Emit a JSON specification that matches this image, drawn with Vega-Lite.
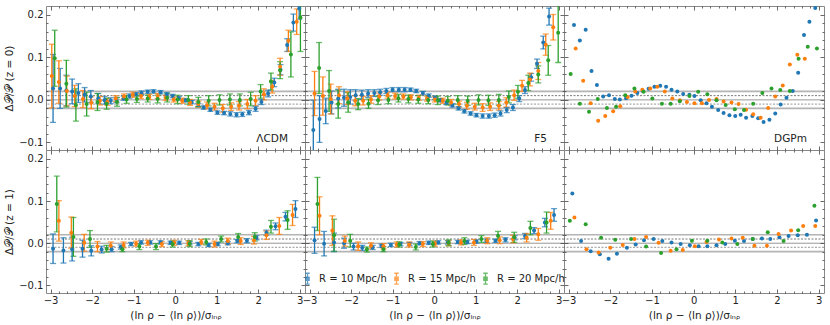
{
"$schema":"https://vega.github.io/schema/vega-lite/v6.json",
"padding":{"left":4,"top":5,"right":2,"bottom":2},
"config":{"font":"DejaVu Sans","view":{"stroke":"#888888","strokeWidth":1},
"axis":{"domain":false,"grid":false,"labelFont":"DejaVu Sans","labelFontSize":10,"labelColor":"#222","tickColor":"#444","tickWidth":0.8,"titleFont":"DejaVu Sans","titleFontSize":10.5,"titleFontWeight":"normal","titleColor":"#222","labelFlush":false,"labelOverlap":false,"labelBound":false}},
"datasets":{
"refs":[{"v":0.02,"k":"a"},{"v":-0.02,"k":"a"},{"v":0.01,"k":"b"},{"v":-0.01,"k":"c"},{"v":0,"k":"d"}],
"L0":[
{"s":"10","x":-2.94,"y":0.027,"e":0.08},{"s":"10","x":-2.77,"y":0.027,"e":0.047},{"s":"10","x":-2.62,"y":0.022,"e":0.036},{"s":"10","x":-2.48,"y":0.02,"e":0.029},{"s":"10","x":-2.33,"y":0.016,"e":0.022},{"s":"10","x":-2.18,"y":0.012,"e":0.017},{"s":"10","x":-2.03,"y":0.008,"e":0.014},{"s":"10","x":-1.85,"y":0.003,"e":0.012},{"s":"10","x":-1.7,"y":-0.001,"e":0.009},{"s":"10","x":-1.55,"y":-0.002,"e":0.007},{"s":"10","x":-1.41,"y":0.0,"e":0.006},{"s":"10","x":-1.24,"y":0.004,"e":0.005},{"s":"10","x":-1.1,"y":0.009,"e":0.005},{"s":"10","x":-0.94,"y":0.013,"e":0.004},{"s":"10","x":-0.81,"y":0.017,"e":0.004},{"s":"10","x":-0.66,"y":0.019,"e":0.004},{"s":"10","x":-0.52,"y":0.02,"e":0.004},{"s":"10","x":-0.35,"y":0.018,"e":0.004},{"s":"10","x":-0.2,"y":0.013,"e":0.004},{"s":"10","x":-0.06,"y":0.009,"e":0.004},{"s":"10","x":0.09,"y":0.004,"e":0.004},{"s":"10","x":0.25,"y":-0.001,"e":0.004},{"s":"10","x":0.4,"y":-0.005,"e":0.004},{"s":"10","x":0.56,"y":-0.012,"e":0.004},{"s":"10","x":0.69,"y":-0.018,"e":0.004},{"s":"10","x":0.85,"y":-0.023,"e":0.004},{"s":"10","x":1.02,"y":-0.03,"e":0.004},{"s":"10","x":1.18,"y":-0.031,"e":0.004},{"s":"10","x":1.33,"y":-0.033,"e":0.005},{"s":"10","x":1.48,"y":-0.035,"e":0.005},{"s":"10","x":1.62,"y":-0.034,"e":0.005},{"s":"10","x":1.78,"y":-0.03,"e":0.005},{"s":"10","x":1.94,"y":-0.021,"e":0.006},{"s":"10","x":2.08,"y":-0.005,"e":0.006},{"s":"10","x":2.24,"y":0.015,"e":0.008},{"s":"10","x":2.39,"y":0.041,"e":0.01},{"s":"10","x":2.54,"y":0.071,"e":0.012},{"s":"10","x":2.7,"y":0.129,"e":0.015},{"s":"10","x":2.85,"y":0.182,"e":0.02},{"s":"10","x":2.99,"y":0.215,"e":0.025},
{"s":"15","x":-2.97,"y":0.056,"e":0.075},{"s":"15","x":-2.8,"y":0.042,"e":0.05},{"s":"15","x":-2.61,"y":0.021,"e":0.035},{"s":"15","x":-2.42,"y":0.009,"e":0.025},{"s":"15","x":-2.22,"y":0.002,"e":0.02},{"s":"15","x":-2.02,"y":-0.007,"e":0.014},{"s":"15","x":-1.81,"y":-0.002,"e":0.01},{"s":"15","x":-1.63,"y":-0.005,"e":0.008},{"s":"15","x":-1.43,"y":0.003,"e":0.007},{"s":"15","x":-1.23,"y":0.008,"e":0.006},{"s":"15","x":-1.02,"y":0.012,"e":0.006},{"s":"15","x":-0.82,"y":0.009,"e":0.006},{"s":"15","x":-0.62,"y":0.007,"e":0.006},{"s":"15","x":-0.42,"y":0.009,"e":0.006},{"s":"15","x":-0.23,"y":0.005,"e":0.006},{"s":"15","x":-0.03,"y":0.001,"e":0.006},{"s":"15","x":0.17,"y":-0.002,"e":0.006},{"s":"15","x":0.36,"y":-0.006,"e":0.007},{"s":"15","x":0.56,"y":-0.01,"e":0.007},{"s":"15","x":0.77,"y":-0.013,"e":0.008},{"s":"15","x":0.95,"y":-0.016,"e":0.008},{"s":"15","x":1.15,"y":-0.02,"e":0.009},{"s":"15","x":1.35,"y":-0.016,"e":0.009},{"s":"15","x":1.54,"y":-0.014,"e":0.01},{"s":"15","x":1.74,"y":-0.01,"e":0.011},{"s":"15","x":1.94,"y":-0.002,"e":0.012},{"s":"15","x":2.14,"y":0.013,"e":0.013},{"s":"15","x":2.34,"y":0.031,"e":0.015},{"s":"15","x":2.53,"y":0.078,"e":0.02},{"s":"15","x":2.73,"y":0.139,"e":0.025},{"s":"15","x":2.93,"y":0.184,"e":0.03},
{"s":"20","x":-2.9,"y":0.098,"e":0.066},{"s":"20","x":-2.62,"y":0.038,"e":0.055},{"s":"20","x":-2.39,"y":-0.012,"e":0.038},{"s":"20","x":-2.13,"y":-0.01,"e":0.028},{"s":"20","x":-1.87,"y":-0.005,"e":0.02},{"s":"20","x":-1.65,"y":-0.009,"e":0.013},{"s":"20","x":-1.4,"y":-0.005,"e":0.01},{"s":"20","x":-1.17,"y":0.001,"e":0.009},{"s":"20","x":-0.92,"y":0.002,"e":0.008},{"s":"20","x":-0.66,"y":0.003,"e":0.008},{"s":"20","x":-0.42,"y":0.002,"e":0.009},{"s":"20","x":-0.19,"y":0.005,"e":0.01},{"s":"20","x":0.06,"y":0.001,"e":0.01},{"s":"20","x":0.32,"y":0.0,"e":0.01},{"s":"20","x":0.56,"y":-0.005,"e":0.011},{"s":"20","x":0.81,"y":-0.002,"e":0.012},{"s":"20","x":1.07,"y":0.0,"e":0.012},{"s":"20","x":1.32,"y":0.001,"e":0.013},{"s":"20","x":1.56,"y":0.0,"e":0.014},{"s":"20","x":1.82,"y":0.002,"e":0.016},{"s":"20","x":2.06,"y":0.02,"e":0.016},{"s":"20","x":2.31,"y":0.043,"e":0.02},{"s":"20","x":2.53,"y":0.07,"e":0.02},{"s":"20","x":2.79,"y":0.107,"e":0.053},{"s":"20","x":3.02,"y":0.194,"e":0.08}],
"F0":[
{"s":"10","x":-2.91,"y":-0.071,"e":0.07},{"s":"10","x":-2.76,"y":-0.045,"e":0.055},{"s":"10","x":-2.61,"y":-0.026,"e":0.03},{"s":"10","x":-2.47,"y":-0.006,"e":0.027},{"s":"10","x":-2.31,"y":0.003,"e":0.022},{"s":"10","x":-2.17,"y":0.005,"e":0.02},{"s":"10","x":-2.02,"y":0.007,"e":0.017},{"s":"10","x":-1.89,"y":0.011,"e":0.013},{"s":"10","x":-1.74,"y":0.012,"e":0.011},{"s":"10","x":-1.59,"y":0.015,"e":0.009},{"s":"10","x":-1.44,"y":0.016,"e":0.008},{"s":"10","x":-1.3,"y":0.018,"e":0.007},{"s":"10","x":-1.15,"y":0.021,"e":0.006},{"s":"10","x":-1.0,"y":0.024,"e":0.005},{"s":"10","x":-0.85,"y":0.024,"e":0.005},{"s":"10","x":-0.71,"y":0.024,"e":0.005},{"s":"10","x":-0.57,"y":0.024,"e":0.004},{"s":"10","x":-0.43,"y":0.021,"e":0.004},{"s":"10","x":-0.27,"y":0.016,"e":0.004},{"s":"10","x":-0.13,"y":0.01,"e":0.004},{"s":"10","x":0.02,"y":0.005,"e":0.004},{"s":"10","x":0.15,"y":-0.001,"e":0.004},{"s":"10","x":0.3,"y":-0.007,"e":0.004},{"s":"10","x":0.44,"y":-0.013,"e":0.004},{"s":"10","x":0.59,"y":-0.02,"e":0.004},{"s":"10","x":0.73,"y":-0.027,"e":0.004},{"s":"10","x":0.88,"y":-0.032,"e":0.004},{"s":"10","x":1.02,"y":-0.036,"e":0.004},{"s":"10","x":1.17,"y":-0.038,"e":0.005},{"s":"10","x":1.32,"y":-0.038,"e":0.005},{"s":"10","x":1.46,"y":-0.036,"e":0.005},{"s":"10","x":1.6,"y":-0.032,"e":0.006},{"s":"10","x":1.75,"y":-0.024,"e":0.006},{"s":"10","x":1.9,"y":-0.018,"e":0.007},{"s":"10","x":2.05,"y":0.003,"e":0.007},{"s":"10","x":2.19,"y":0.023,"e":0.008},{"s":"10","x":2.34,"y":0.053,"e":0.009},{"s":"10","x":2.48,"y":0.085,"e":0.011},{"s":"10","x":2.63,"y":0.135,"e":0.015},{"s":"10","x":2.77,"y":0.196,"e":0.02},
{"s":"15","x":-2.88,"y":0.015,"e":0.052},{"s":"15","x":-2.68,"y":0.009,"e":0.045},{"s":"15","x":-2.49,"y":0.002,"e":0.035},{"s":"15","x":-2.29,"y":0.011,"e":0.02},{"s":"15","x":-2.09,"y":0.004,"e":0.015},{"s":"15","x":-1.9,"y":-0.002,"e":0.012},{"s":"15","x":-1.71,"y":-0.002,"e":0.01},{"s":"15","x":-1.52,"y":0.001,"e":0.009},{"s":"15","x":-1.32,"y":0.008,"e":0.008},{"s":"15","x":-1.12,"y":0.011,"e":0.007},{"s":"15","x":-0.94,"y":0.009,"e":0.007},{"s":"15","x":-0.74,"y":0.008,"e":0.006},{"s":"15","x":-0.56,"y":0.006,"e":0.006},{"s":"15","x":-0.37,"y":0.005,"e":0.006},{"s":"15","x":-0.17,"y":0.003,"e":0.006},{"s":"15","x":0.02,"y":0.001,"e":0.006},{"s":"15","x":0.21,"y":-0.002,"e":0.006},{"s":"15","x":0.41,"y":-0.006,"e":0.007},{"s":"15","x":0.6,"y":-0.01,"e":0.007},{"s":"15","x":0.79,"y":-0.014,"e":0.008},{"s":"15","x":0.98,"y":-0.016,"e":0.008},{"s":"15","x":1.17,"y":-0.018,"e":0.009},{"s":"15","x":1.35,"y":-0.016,"e":0.009},{"s":"15","x":1.56,"y":-0.014,"e":0.01},{"s":"15","x":1.74,"y":-0.006,"e":0.011},{"s":"15","x":1.93,"y":0.011,"e":0.012},{"s":"15","x":2.12,"y":0.033,"e":0.013},{"s":"15","x":2.31,"y":0.048,"e":0.015},{"s":"15","x":2.51,"y":0.068,"e":0.02},{"s":"15","x":2.69,"y":0.13,"e":0.025},{"s":"15","x":2.87,"y":0.171,"e":0.03},
{"s":"20","x":-2.77,"y":0.075,"e":0.06},{"s":"20","x":-2.53,"y":0.021,"e":0.048},{"s":"20","x":-2.31,"y":-0.01,"e":0.033},{"s":"20","x":-2.07,"y":-0.006,"e":0.023},{"s":"20","x":-1.83,"y":-0.01,"e":0.013},{"s":"20","x":-1.58,"y":-0.009,"e":0.011},{"s":"20","x":-1.35,"y":-0.001,"e":0.01},{"s":"20","x":-1.1,"y":0.0,"e":0.009},{"s":"20","x":-0.86,"y":0.004,"e":0.009},{"s":"20","x":-0.62,"y":0.002,"e":0.009},{"s":"20","x":-0.38,"y":0.001,"e":0.009},{"s":"20","x":-0.14,"y":0.0,"e":0.009},{"s":"20","x":0.09,"y":-0.001,"e":0.01},{"s":"20","x":0.33,"y":-0.002,"e":0.01},{"s":"20","x":0.57,"y":0.0,"e":0.01},{"s":"20","x":0.81,"y":-0.002,"e":0.011},{"s":"20","x":1.07,"y":0.0,"e":0.012},{"s":"20","x":1.31,"y":-0.001,"e":0.012},{"s":"20","x":1.56,"y":0.0,"e":0.013},{"s":"20","x":1.8,"y":0.007,"e":0.014},{"s":"20","x":2.02,"y":0.019,"e":0.015},{"s":"20","x":2.27,"y":0.04,"e":0.018},{"s":"20","x":2.51,"y":0.06,"e":0.02},{"s":"20","x":2.75,"y":0.093,"e":0.035},{"s":"20","x":2.99,"y":0.158,"e":0.07}],
"D0":[
{"s":"10","x":-2.87,"y":0.176},{"s":"10","x":-2.73,"y":0.14},{"s":"10","x":-2.59,"y":0.165},{"s":"10","x":-2.45,"y":0.068},{"s":"10","x":-2.32,"y":0.035},{"s":"10","x":-2.17,"y":0.008},{"s":"10","x":-2.03,"y":0.011},{"s":"10","x":-1.89,"y":0.002},{"s":"10","x":-1.77,"y":0.001},{"s":"10","x":-1.62,"y":0.004},{"s":"10","x":-1.49,"y":0.01},{"s":"10","x":-1.35,"y":0.016},{"s":"10","x":-1.22,"y":0.021},{"s":"10","x":-1.08,"y":0.026},{"s":"10","x":-0.94,"y":0.031},{"s":"10","x":-0.8,"y":0.033},{"s":"10","x":-0.66,"y":0.031},{"s":"10","x":-0.53,"y":0.024},{"s":"10","x":-0.39,"y":0.02},{"s":"10","x":-0.25,"y":0.014},{"s":"10","x":-0.1,"y":0.012},{"s":"10","x":0.02,"y":0.009},{"s":"10","x":0.17,"y":-0.001},{"s":"10","x":0.31,"y":-0.008},{"s":"10","x":0.44,"y":-0.016},{"s":"10","x":0.59,"y":-0.024},{"s":"10","x":0.72,"y":-0.031},{"s":"10","x":0.86,"y":-0.036},{"s":"10","x":1.0,"y":-0.038},{"s":"10","x":1.13,"y":-0.035},{"s":"10","x":1.26,"y":-0.042},{"s":"10","x":1.41,"y":-0.038},{"s":"10","x":1.55,"y":-0.043},{"s":"10","x":1.68,"y":-0.052},{"s":"10","x":1.82,"y":-0.047},{"s":"10","x":1.96,"y":-0.032},{"s":"10","x":2.09,"y":-0.011},{"s":"10","x":2.23,"y":0.005},{"s":"10","x":2.38,"y":0.021},{"s":"10","x":2.51,"y":0.064},{"s":"10","x":2.65,"y":0.153},{"s":"10","x":2.78,"y":0.184},{"s":"10","x":2.92,"y":0.216},
{"s":"15","x":-2.83,"y":0.121},{"s":"15","x":-2.65,"y":0.045},{"s":"15","x":-2.47,"y":-0.008},{"s":"15","x":-2.29,"y":-0.049},{"s":"15","x":-2.12,"y":-0.038},{"s":"15","x":-1.93,"y":-0.027},{"s":"15","x":-1.76,"y":-0.015},{"s":"15","x":-1.58,"y":0.007},{"s":"15","x":-1.4,"y":0.02},{"s":"15","x":-1.23,"y":0.024},{"s":"15","x":-1.04,"y":0.027},{"s":"15","x":-0.87,"y":0.031},{"s":"15","x":-0.69,"y":0.02},{"s":"15","x":-0.51,"y":0.003},{"s":"15","x":-0.33,"y":-0.001},{"s":"15","x":-0.16,"y":-0.005},{"s":"15","x":0.02,"y":-0.008},{"s":"15","x":0.2,"y":-0.008},{"s":"15","x":0.37,"y":0.0},{"s":"15","x":0.55,"y":0.002},{"s":"15","x":0.72,"y":-0.004},{"s":"15","x":0.91,"y":-0.006},{"s":"15","x":1.08,"y":-0.01},{"s":"15","x":1.26,"y":-0.023},{"s":"15","x":1.43,"y":-0.034},{"s":"15","x":1.61,"y":-0.042},{"s":"15","x":1.79,"y":-0.019},{"s":"15","x":1.96,"y":0.008},{"s":"15","x":2.14,"y":0.034},{"s":"15","x":2.31,"y":0.083},{"s":"15","x":2.49,"y":0.106},{"s":"15","x":2.67,"y":0.097},
{"s":"20","x":-2.95,"y":0.061},{"s":"20","x":-2.73,"y":-0.009},{"s":"20","x":-2.51,"y":-0.028},{"s":"20","x":-2.3,"y":0.002},{"s":"20","x":-2.08,"y":-0.019},{"s":"20","x":-1.86,"y":-0.016},{"s":"20","x":-1.64,"y":0.011},{"s":"20","x":-1.42,"y":0.027},{"s":"20","x":-1.2,"y":0.019},{"s":"20","x":-0.99,"y":0.003},{"s":"20","x":-0.76,"y":-0.009},{"s":"20","x":-0.55,"y":-0.009},{"s":"20","x":-0.33,"y":-0.003},{"s":"20","x":-0.1,"y":0.009},{"s":"20","x":0.11,"y":0.019},{"s":"20","x":0.33,"y":0.013},{"s":"20","x":0.55,"y":-0.001},{"s":"20","x":0.77,"y":-0.012},{"s":"20","x":0.99,"y":-0.022},{"s":"20","x":1.21,"y":-0.024},{"s":"20","x":1.43,"y":-0.009},{"s":"20","x":1.65,"y":0.016},{"s":"20","x":1.87,"y":0.027},{"s":"20","x":2.08,"y":0.023},{"s":"20","x":2.31,"y":0.021},{"s":"20","x":2.52,"y":0.097},{"s":"20","x":2.74,"y":0.125},{"s":"20","x":2.96,"y":0.121}],
"L1":[
{"s":"10","x":-2.94,"y":-0.013,"e":0.035},{"s":"10","x":-2.69,"y":-0.017,"e":0.03},{"s":"10","x":-2.48,"y":-0.014,"e":0.028},{"s":"10","x":-2.23,"y":-0.013,"e":0.02},{"s":"10","x":-2.02,"y":-0.018,"e":0.012},{"s":"10","x":-1.77,"y":-0.015,"e":0.008},{"s":"10","x":-1.53,"y":-0.014,"e":0.006},{"s":"10","x":-1.31,"y":-0.009,"e":0.005},{"s":"10","x":-1.06,"y":-0.002,"e":0.004},{"s":"10","x":-0.82,"y":0.002,"e":0.004},{"s":"10","x":-0.6,"y":0.002,"e":0.004},{"s":"10","x":-0.35,"y":0.002,"e":0.004},{"s":"10","x":-0.11,"y":0.001,"e":0.004},{"s":"10","x":0.1,"y":0.001,"e":0.004},{"s":"10","x":0.35,"y":0.0,"e":0.004},{"s":"10","x":0.56,"y":-0.002,"e":0.004},{"s":"10","x":0.81,"y":-0.004,"e":0.004},{"s":"10","x":1.03,"y":-0.002,"e":0.004},{"s":"10","x":1.27,"y":0.0,"e":0.004},{"s":"10","x":1.5,"y":0.005,"e":0.004},{"s":"10","x":1.73,"y":0.006,"e":0.005},{"s":"10","x":1.96,"y":0.013,"e":0.005},{"s":"10","x":2.2,"y":0.025,"e":0.006},{"s":"10","x":2.42,"y":0.04,"e":0.008},{"s":"10","x":2.66,"y":0.063,"e":0.01},{"s":"10","x":2.9,"y":0.081,"e":0.02},
{"s":"15","x":-2.8,"y":0.053,"e":0.048},{"s":"15","x":-2.5,"y":0.025,"e":0.037},{"s":"15","x":-2.19,"y":0.001,"e":0.02},{"s":"15","x":-1.87,"y":-0.008,"e":0.012},{"s":"15","x":-1.55,"y":-0.006,"e":0.009},{"s":"15","x":-1.24,"y":-0.004,"e":0.007},{"s":"15","x":-0.94,"y":-0.001,"e":0.006},{"s":"15","x":-0.66,"y":0.001,"e":0.006},{"s":"15","x":-0.32,"y":-0.002,"e":0.006},{"s":"15","x":-0.02,"y":0.001,"e":0.006},{"s":"15","x":0.32,"y":0.0,"e":0.006},{"s":"15","x":0.63,"y":0.003,"e":0.006},{"s":"15","x":0.95,"y":-0.002,"e":0.007},{"s":"15","x":1.27,"y":0.005,"e":0.007},{"s":"15","x":1.58,"y":0.005,"e":0.008},{"s":"15","x":1.9,"y":0.007,"e":0.009},{"s":"15","x":2.2,"y":0.019,"e":0.01},{"s":"15","x":2.51,"y":0.041,"e":0.02},{"s":"15","x":2.83,"y":0.067,"e":0.025},
{"s":"20","x":-2.85,"y":0.093,"e":0.066},{"s":"20","x":-2.45,"y":0.015,"e":0.046},{"s":"20","x":-2.05,"y":0.01,"e":0.02},{"s":"20","x":-1.65,"y":-0.013,"e":0.008},{"s":"20","x":-1.27,"y":-0.014,"e":0.006},{"s":"20","x":-0.86,"y":-0.008,"e":0.007},{"s":"20","x":-0.46,"y":-0.008,"e":0.007},{"s":"20","x":-0.06,"y":-0.002,"e":0.007},{"s":"20","x":0.35,"y":-0.001,"e":0.007},{"s":"20","x":0.75,"y":0.003,"e":0.007},{"s":"20","x":1.11,"y":0.01,"e":0.007},{"s":"20","x":1.52,"y":0.015,"e":0.008},{"s":"20","x":1.92,"y":0.015,"e":0.01},{"s":"20","x":2.31,"y":0.039,"e":0.015},{"s":"20","x":2.71,"y":0.055,"e":0.022}],
"F1":[
{"s":"10","x":-2.88,"y":0.007,"e":0.031},{"s":"10","x":-2.65,"y":-0.001,"e":0.029},{"s":"10","x":-2.41,"y":0.002,"e":0.022},{"s":"10","x":-2.17,"y":0.0,"e":0.012},{"s":"10","x":-1.94,"y":-0.008,"e":0.008},{"s":"10","x":-1.73,"y":-0.011,"e":0.006},{"s":"10","x":-1.48,"y":-0.01,"e":0.005},{"s":"10","x":-1.27,"y":-0.006,"e":0.004},{"s":"10","x":-1.04,"y":-0.004,"e":0.004},{"s":"10","x":-0.81,"y":-0.002,"e":0.004},{"s":"10","x":-0.59,"y":-0.002,"e":0.004},{"s":"10","x":-0.35,"y":0.0,"e":0.004},{"s":"10","x":-0.13,"y":0.001,"e":0.004},{"s":"10","x":0.1,"y":0.002,"e":0.004},{"s":"10","x":0.33,"y":0.002,"e":0.004},{"s":"10","x":0.57,"y":0.003,"e":0.004},{"s":"10","x":0.8,"y":0.003,"e":0.004},{"s":"10","x":1.02,"y":0.004,"e":0.004},{"s":"10","x":1.26,"y":0.006,"e":0.004},{"s":"10","x":1.48,"y":0.006,"e":0.004},{"s":"10","x":1.72,"y":0.008,"e":0.005},{"s":"10","x":1.94,"y":0.013,"e":0.005},{"s":"10","x":2.19,"y":0.017,"e":0.006},{"s":"10","x":2.41,"y":0.03,"e":0.007},{"s":"10","x":2.67,"y":0.049,"e":0.01},{"s":"10","x":2.89,"y":0.067,"e":0.015},
{"s":"15","x":-2.76,"y":0.065,"e":0.045},{"s":"15","x":-2.45,"y":0.03,"e":0.035},{"s":"15","x":-2.15,"y":0.005,"e":0.012},{"s":"15","x":-1.83,"y":-0.007,"e":0.01},{"s":"15","x":-1.52,"y":-0.006,"e":0.007},{"s":"15","x":-1.22,"y":-0.007,"e":0.006},{"s":"15","x":-0.9,"y":-0.003,"e":0.006},{"s":"15","x":-0.6,"y":-0.003,"e":0.006},{"s":"15","x":-0.27,"y":-0.002,"e":0.006},{"s":"15","x":0.02,"y":-0.001,"e":0.006},{"s":"15","x":0.35,"y":0.0,"e":0.006},{"s":"15","x":0.65,"y":0.002,"e":0.006},{"s":"15","x":0.96,"y":0.002,"e":0.007},{"s":"15","x":1.28,"y":0.006,"e":0.007},{"s":"15","x":1.58,"y":0.007,"e":0.008},{"s":"15","x":1.9,"y":0.01,"e":0.009},{"s":"15","x":2.23,"y":0.013,"e":0.01},{"s":"15","x":2.51,"y":0.021,"e":0.014},{"s":"15","x":2.81,"y":0.053,"e":0.02},
{"s":"20","x":-2.81,"y":0.093,"e":0.063},{"s":"20","x":-2.41,"y":0.019,"e":0.038},{"s":"20","x":-2.02,"y":0.006,"e":0.015},{"s":"20","x":-1.62,"y":-0.015,"e":0.006},{"s":"20","x":-1.22,"y":-0.014,"e":0.006},{"s":"20","x":-0.84,"y":-0.003,"e":0.006},{"s":"20","x":-0.44,"y":-0.009,"e":0.007},{"s":"20","x":-0.03,"y":-0.002,"e":0.007},{"s":"20","x":0.35,"y":0.001,"e":0.007},{"s":"20","x":0.73,"y":0.005,"e":0.008},{"s":"20","x":1.14,"y":0.01,"e":0.008},{"s":"20","x":1.54,"y":0.018,"e":0.01},{"s":"20","x":1.93,"y":0.014,"e":0.012},{"s":"20","x":2.32,"y":0.036,"e":0.016},{"s":"20","x":2.71,"y":0.049,"e":0.025}],
"D1":[
{"s":"10","x":-2.91,"y":0.118},{"s":"10","x":-2.7,"y":0.005},{"s":"10","x":-2.47,"y":-0.019},{"s":"10","x":-2.25,"y":-0.026},{"s":"10","x":-2.04,"y":-0.037},{"s":"10","x":-1.84,"y":-0.025},{"s":"10","x":-1.6,"y":-0.011},{"s":"10","x":-1.39,"y":-0.003},{"s":"10","x":-1.19,"y":0.007},{"s":"10","x":-0.96,"y":0.01},{"s":"10","x":-0.75,"y":0.005},{"s":"10","x":-0.53,"y":0.002},{"s":"10","x":-0.31,"y":-0.002},{"s":"10","x":-0.09,"y":-0.005},{"s":"10","x":0.12,"y":-0.007},{"s":"10","x":0.33,"y":-0.007},{"s":"10","x":0.55,"y":-0.005},{"s":"10","x":0.76,"y":-0.002},{"s":"10","x":0.99,"y":0.006},{"s":"10","x":1.21,"y":0.005},{"s":"10","x":1.42,"y":0.01},{"s":"10","x":1.64,"y":0.011},{"s":"10","x":1.84,"y":0.01},{"s":"10","x":2.06,"y":0.014},{"s":"10","x":2.28,"y":0.017},{"s":"10","x":2.5,"y":0.019},{"s":"10","x":2.72,"y":0.02},{"s":"10","x":2.94,"y":0.054},
{"s":"15","x":-2.86,"y":0.061},{"s":"15","x":-2.57,"y":-0.014},{"s":"15","x":-2.28,"y":-0.022},{"s":"15","x":-2.0,"y":-0.011},{"s":"15","x":-1.7,"y":-0.004},{"s":"15","x":-1.42,"y":0.01},{"s":"15","x":-1.14,"y":0.015},{"s":"15","x":-0.84,"y":0.001},{"s":"15","x":-0.55,"y":-0.018},{"s":"15","x":-0.26,"y":-0.016},{"s":"15","x":0.03,"y":-0.007},{"s":"15","x":0.31,"y":0.003},{"s":"15","x":0.61,"y":0.009},{"s":"15","x":0.91,"y":0.011},{"s":"15","x":1.18,"y":0.013},{"s":"15","x":1.46,"y":-0.006},{"s":"15","x":1.76,"y":-0.006},{"s":"15","x":2.04,"y":0.022},{"s":"15","x":2.34,"y":0.03},{"s":"15","x":2.63,"y":0.041},{"s":"15","x":2.92,"y":0.041},
{"s":"20","x":-2.97,"y":0.053},{"s":"20","x":-2.59,"y":0.045},{"s":"20","x":-2.22,"y":0.013},{"s":"20","x":-1.88,"y":0.008},{"s":"20","x":-1.5,"y":0.01},{"s":"20","x":-1.14,"y":-0.008},{"s":"20","x":-0.78,"y":-0.023},{"s":"20","x":-0.41,"y":-0.014},{"s":"20","x":-0.04,"y":0.006},{"s":"20","x":0.33,"y":0.006},{"s":"20","x":0.69,"y":0.002},{"s":"20","x":1.05,"y":-0.002},{"s":"20","x":1.42,"y":0.01},{"s":"20","x":1.78,"y":0.026},{"s":"20","x":2.16,"y":0.005},{"s":"20","x":2.51,"y":0.031},{"s":"20","x":2.9,"y":0.089}]
},
"spacing":0,
"bounds":"flush",
"columns":3,
"concat":[
{"width":259,"height":144,"resolve":{"axis":{"x":"independent","y":"independent"}},"layer":[
{"data":{"name":"refs"},"mark":{"type":"rule"},"encoding":{"y":{"field":"v","type":"quantitative","scale":{"domain":[-0.118,0.221],"nice":false,"zero":false},"axis":{"orient":"left","values":[-0.1,-0.08,-0.06,-0.04,-0.02,0,0.02,0.04,0.06,0.08,0.1,0.12,0.14,0.16,0.18,0.2],"labelExpr":"abs(datum.value*10-round(datum.value*10))<0.001 ? format(datum.value,'.1f') : ''","tickSize":{"condition":{"test":"abs(datum.value*10-round(datum.value*10))<0.001","value":-4},"value":-2},"labelPadding":7,"title":"Δ𝒫/𝒫 (z = 0)","titlePadding":4}},"strokeDash":{"field":"k","type":"nominal","scale":{"domain":["a","b","c","d"],"range":[[1,0],[2,1.5],[2,1.5],[1,0]]},"legend":null},"strokeWidth":{"field":"k","type":"nominal","scale":{"type":"ordinal","domain":["a","b","c","d"],"range":[1.6,0.8,1.3,1]},"legend":null},"opacity":{"field":"k","type":"nominal","scale":{"type":"ordinal","domain":["a","b","c","d"],"range":[0.4,0.9,0.45,0.55]},"legend":null},"color":{"value":"#444"}}},
{"data":{"name":"L0"},"mark":{"type":"errorbar","ticks":{"size":6},"thickness":1.3,"clip":true},"encoding":{"x":{"field":"x","type":"quantitative","scale":{"domain":[-3.11,3.13],"nice":false,"zero":false},"axis":null},"y":{"field":"y","type":"quantitative","scale":{"domain":[-0.118,0.221],"nice":false,"zero":false},"axis":null},"yError":{"field":"e"},"color":{"field":"s","type":"nominal","scale":{"domain":["10","15","20"],"range":["#1f77b4","#ff7f0e","#2ca02c"]}}}},
{"data":{"name":"L0"},"mark":{"type":"point","filled":true,"size":16,"opacity":1,"clip":true},"encoding":{"x":{"field":"x","type":"quantitative","scale":{"domain":[-3.11,3.13],"nice":false,"zero":false},"axis":{"orient":"bottom","values":[-3,-2.8,-2.6,-2.4,-2.2,-2,-1.8,-1.6,-1.4,-1.2,-1,-0.8,-0.6,-0.4,-0.2,0,0.2,0.4,0.6,0.8,1,1.2,1.4,1.6,1.8,2,2.2,2.4,2.6,2.8,3],"labels":false,"tickSize":{"condition":{"test":"abs(datum.value-round(datum.value))<0.001","value":-4},"value":-2},"title":null}},"y":{"field":"y","type":"quantitative","scale":{"domain":[-0.118,0.221],"nice":false,"zero":false},"axis":{"orient":"right","values":[-0.1,-0.08,-0.06,-0.04,-0.02,0,0.02,0.04,0.06,0.08,0.1,0.12,0.14,0.16,0.18,0.2],"labels":false,"tickSize":{"condition":{"test":"abs(datum.value*10-round(datum.value*10))<0.001","value":-4},"value":-2},"title":null}},"color":{"field":"s","type":"nominal","scale":{"domain":["10","15","20"],"range":["#1f77b4","#ff7f0e","#2ca02c"]}}}},
{"data":{"values":[{}]},"mark":{"type":"text","align":"right","baseline":"alphabetic","fontSize":10.5,"color":"#222"},"encoding":{"x":{"datum":2.72,"type":"quantitative","axis":{"orient":"top","values":[-3,-2.8,-2.6,-2.4,-2.2,-2,-1.8,-1.6,-1.4,-1.2,-1,-0.8,-0.6,-0.4,-0.2,0,0.2,0.4,0.6,0.8,1,1.2,1.4,1.6,1.8,2,2.2,2.4,2.6,2.8,3],"labels":false,"tickSize":{"condition":{"test":"abs(datum.value-round(datum.value))<0.001","value":-4},"value":-2},"title":null}},"y":{"datum":-0.1,"type":"quantitative","axis":null},"text":{"value":"ΛCDM"}}}
]},
{"width":259,"height":144,"resolve":{"axis":{"x":"independent","y":"independent"}},"layer":[
{"data":{"name":"refs"},"mark":{"type":"rule"},"encoding":{"y":{"field":"v","type":"quantitative","scale":{"domain":[-0.118,0.221],"nice":false,"zero":false},"axis":{"orient":"left","values":[-0.1,-0.08,-0.06,-0.04,-0.02,0,0.02,0.04,0.06,0.08,0.1,0.12,0.14,0.16,0.18,0.2],"labels":false,"tickSize":{"condition":{"test":"abs(datum.value*10-round(datum.value*10))<0.001","value":-4},"value":-2},"title":null}},"strokeDash":{"field":"k","type":"nominal","scale":{"domain":["a","b","c","d"],"range":[[1,0],[2,1.5],[2,1.5],[1,0]]},"legend":null},"strokeWidth":{"field":"k","type":"nominal","scale":{"type":"ordinal","domain":["a","b","c","d"],"range":[1.6,0.8,1.3,1]},"legend":null},"opacity":{"field":"k","type":"nominal","scale":{"type":"ordinal","domain":["a","b","c","d"],"range":[0.4,0.9,0.45,0.55]},"legend":null},"color":{"value":"#444"}}},
{"data":{"name":"F0"},"mark":{"type":"errorbar","ticks":{"size":6},"thickness":1.3,"clip":true},"encoding":{"x":{"field":"x","type":"quantitative","scale":{"domain":[-3.11,3.13],"nice":false,"zero":false},"axis":null},"y":{"field":"y","type":"quantitative","scale":{"domain":[-0.118,0.221],"nice":false,"zero":false},"axis":null},"yError":{"field":"e"},"color":{"field":"s","type":"nominal","scale":{"domain":["10","15","20"],"range":["#1f77b4","#ff7f0e","#2ca02c"]}}}},
{"data":{"name":"F0"},"mark":{"type":"point","filled":true,"size":16,"opacity":1,"clip":true},"encoding":{"x":{"field":"x","type":"quantitative","scale":{"domain":[-3.11,3.13],"nice":false,"zero":false},"axis":{"orient":"bottom","values":[-3,-2.8,-2.6,-2.4,-2.2,-2,-1.8,-1.6,-1.4,-1.2,-1,-0.8,-0.6,-0.4,-0.2,0,0.2,0.4,0.6,0.8,1,1.2,1.4,1.6,1.8,2,2.2,2.4,2.6,2.8,3],"labels":false,"tickSize":{"condition":{"test":"abs(datum.value-round(datum.value))<0.001","value":-4},"value":-2},"title":null}},"y":{"field":"y","type":"quantitative","scale":{"domain":[-0.118,0.221],"nice":false,"zero":false},"axis":{"orient":"right","values":[-0.1,-0.08,-0.06,-0.04,-0.02,0,0.02,0.04,0.06,0.08,0.1,0.12,0.14,0.16,0.18,0.2],"labels":false,"tickSize":{"condition":{"test":"abs(datum.value*10-round(datum.value*10))<0.001","value":-4},"value":-2},"title":null}},"color":{"field":"s","type":"nominal","scale":{"domain":["10","15","20"],"range":["#1f77b4","#ff7f0e","#2ca02c"]}}}},
{"data":{"values":[{}]},"mark":{"type":"text","align":"right","baseline":"alphabetic","fontSize":10.5,"color":"#222"},"encoding":{"x":{"datum":2.72,"type":"quantitative","axis":{"orient":"top","values":[-3,-2.8,-2.6,-2.4,-2.2,-2,-1.8,-1.6,-1.4,-1.2,-1,-0.8,-0.6,-0.4,-0.2,0,0.2,0.4,0.6,0.8,1,1.2,1.4,1.6,1.8,2,2.2,2.4,2.6,2.8,3],"labels":false,"tickSize":{"condition":{"test":"abs(datum.value-round(datum.value))<0.001","value":-4},"value":-2},"title":null}},"y":{"datum":-0.1,"type":"quantitative","axis":null},"text":{"value":"F5"}}}
]},
{"width":260,"height":144,"resolve":{"axis":{"x":"independent","y":"independent"}},"layer":[
{"data":{"name":"refs"},"mark":{"type":"rule"},"encoding":{"y":{"field":"v","type":"quantitative","scale":{"domain":[-0.118,0.221],"nice":false,"zero":false},"axis":{"orient":"left","values":[-0.1,-0.08,-0.06,-0.04,-0.02,0,0.02,0.04,0.06,0.08,0.1,0.12,0.14,0.16,0.18,0.2],"labels":false,"tickSize":{"condition":{"test":"abs(datum.value*10-round(datum.value*10))<0.001","value":-4},"value":-2},"title":null}},"strokeDash":{"field":"k","type":"nominal","scale":{"domain":["a","b","c","d"],"range":[[1,0],[2,1.5],[2,1.5],[1,0]]},"legend":null},"strokeWidth":{"field":"k","type":"nominal","scale":{"type":"ordinal","domain":["a","b","c","d"],"range":[1.6,0.8,1.3,1]},"legend":null},"opacity":{"field":"k","type":"nominal","scale":{"type":"ordinal","domain":["a","b","c","d"],"range":[0.4,0.9,0.45,0.55]},"legend":null},"color":{"value":"#444"}}},
{"data":{"name":"D0"},"mark":{"type":"point","filled":true,"size":16,"opacity":1,"clip":true},"encoding":{"x":{"field":"x","type":"quantitative","scale":{"domain":[-3.11,3.13],"nice":false,"zero":false},"axis":{"orient":"bottom","values":[-3,-2.8,-2.6,-2.4,-2.2,-2,-1.8,-1.6,-1.4,-1.2,-1,-0.8,-0.6,-0.4,-0.2,0,0.2,0.4,0.6,0.8,1,1.2,1.4,1.6,1.8,2,2.2,2.4,2.6,2.8,3],"labels":false,"tickSize":{"condition":{"test":"abs(datum.value-round(datum.value))<0.001","value":-4},"value":-2},"title":null}},"y":{"field":"y","type":"quantitative","scale":{"domain":[-0.118,0.221],"nice":false,"zero":false},"axis":{"orient":"right","values":[-0.1,-0.08,-0.06,-0.04,-0.02,0,0.02,0.04,0.06,0.08,0.1,0.12,0.14,0.16,0.18,0.2],"labels":false,"tickSize":{"condition":{"test":"abs(datum.value*10-round(datum.value*10))<0.001","value":-4},"value":-2},"title":null}},"color":{"field":"s","type":"nominal","scale":{"domain":["10","15","20"],"range":["#1f77b4","#ff7f0e","#2ca02c"]}}}},
{"data":{"values":[{}]},"mark":{"type":"text","align":"right","baseline":"alphabetic","fontSize":10.5,"color":"#222"},"encoding":{"x":{"datum":2.72,"type":"quantitative","axis":{"orient":"top","values":[-3,-2.8,-2.6,-2.4,-2.2,-2,-1.8,-1.6,-1.4,-1.2,-1,-0.8,-0.6,-0.4,-0.2,0,0.2,0.4,0.6,0.8,1,1.2,1.4,1.6,1.8,2,2.2,2.4,2.6,2.8,3],"labels":false,"tickSize":{"condition":{"test":"abs(datum.value-round(datum.value))<0.001","value":-4},"value":-2},"title":null}},"y":{"datum":-0.1,"type":"quantitative","axis":null},"text":{"value":"DGPm"}}}
]},
{"width":259,"height":143,"resolve":{"axis":{"x":"independent","y":"independent"}},"layer":[
{"data":{"name":"refs"},"mark":{"type":"rule"},"encoding":{"y":{"field":"v","type":"quantitative","scale":{"domain":[-0.118,0.221],"nice":false,"zero":false},"axis":{"orient":"left","values":[-0.1,-0.08,-0.06,-0.04,-0.02,0,0.02,0.04,0.06,0.08,0.1,0.12,0.14,0.16,0.18,0.2],"labelExpr":"abs(datum.value*10-round(datum.value*10))<0.001 ? format(datum.value,'.1f') : ''","tickSize":{"condition":{"test":"abs(datum.value*10-round(datum.value*10))<0.001","value":-4},"value":-2},"labelPadding":7,"title":"Δ𝒫/𝒫 (z = 1)","titlePadding":4}},"strokeDash":{"field":"k","type":"nominal","scale":{"domain":["a","b","c","d"],"range":[[1,0],[2,1.5],[2,1.5],[1,0]]},"legend":null},"strokeWidth":{"field":"k","type":"nominal","scale":{"type":"ordinal","domain":["a","b","c","d"],"range":[1.6,0.8,1.3,1]},"legend":null},"opacity":{"field":"k","type":"nominal","scale":{"type":"ordinal","domain":["a","b","c","d"],"range":[0.4,0.9,0.45,0.55]},"legend":null},"color":{"value":"#444"}}},
{"data":{"name":"L1"},"mark":{"type":"errorbar","ticks":{"size":6},"thickness":1.3,"clip":true},"encoding":{"x":{"field":"x","type":"quantitative","scale":{"domain":[-3.11,3.13],"nice":false,"zero":false},"axis":null},"y":{"field":"y","type":"quantitative","scale":{"domain":[-0.118,0.221],"nice":false,"zero":false},"axis":null},"yError":{"field":"e"},"color":{"field":"s","type":"nominal","scale":{"domain":["10","15","20"],"range":["#1f77b4","#ff7f0e","#2ca02c"]}}}},
{"data":{"name":"L1"},"mark":{"type":"point","filled":true,"size":16,"opacity":1,"clip":true},"encoding":{"x":{"field":"x","type":"quantitative","scale":{"domain":[-3.11,3.13],"nice":false,"zero":false},"axis":{"orient":"bottom","values":[-3,-2.8,-2.6,-2.4,-2.2,-2,-1.8,-1.6,-1.4,-1.2,-1,-0.8,-0.6,-0.4,-0.2,0,0.2,0.4,0.6,0.8,1,1.2,1.4,1.6,1.8,2,2.2,2.4,2.6,2.8,3],"labelExpr":"abs(datum.value-round(datum.value))<0.001 ? format(datum.value,'.0f') : ''","tickSize":{"condition":{"test":"abs(datum.value-round(datum.value))<0.001","value":-4},"value":-2},"labelPadding":6,"title":"(ln ρ − ⟨ln ρ⟩)/σₗₙᵨ","titlePadding":3}},"y":{"field":"y","type":"quantitative","scale":{"domain":[-0.118,0.221],"nice":false,"zero":false},"axis":{"orient":"right","values":[-0.1,-0.08,-0.06,-0.04,-0.02,0,0.02,0.04,0.06,0.08,0.1,0.12,0.14,0.16,0.18,0.2],"labels":false,"tickSize":{"condition":{"test":"abs(datum.value*10-round(datum.value*10))<0.001","value":-4},"value":-2},"title":null}},"color":{"field":"s","type":"nominal","scale":{"domain":["10","15","20"],"range":["#1f77b4","#ff7f0e","#2ca02c"]}}}},
{"data":{"values":[{}]},"mark":{"type":"text","text":""},"encoding":{"x":{"datum":0,"type":"quantitative","axis":{"orient":"top","values":[-3,-2.8,-2.6,-2.4,-2.2,-2,-1.8,-1.6,-1.4,-1.2,-1,-0.8,-0.6,-0.4,-0.2,0,0.2,0.4,0.6,0.8,1,1.2,1.4,1.6,1.8,2,2.2,2.4,2.6,2.8,3],"labels":false,"tickSize":{"condition":{"test":"abs(datum.value-round(datum.value))<0.001","value":-4},"value":-2},"title":null}},"y":{"datum":0,"type":"quantitative","axis":null}}}
]},
{"width":259,"height":143,"resolve":{"axis":{"x":"independent","y":"independent"}},"layer":[
{"data":{"name":"refs"},"mark":{"type":"rule"},"encoding":{"y":{"field":"v","type":"quantitative","scale":{"domain":[-0.118,0.221],"nice":false,"zero":false},"axis":{"orient":"left","values":[-0.1,-0.08,-0.06,-0.04,-0.02,0,0.02,0.04,0.06,0.08,0.1,0.12,0.14,0.16,0.18,0.2],"labels":false,"tickSize":{"condition":{"test":"abs(datum.value*10-round(datum.value*10))<0.001","value":-4},"value":-2},"title":null}},"strokeDash":{"field":"k","type":"nominal","scale":{"domain":["a","b","c","d"],"range":[[1,0],[2,1.5],[2,1.5],[1,0]]},"legend":null},"strokeWidth":{"field":"k","type":"nominal","scale":{"type":"ordinal","domain":["a","b","c","d"],"range":[1.6,0.8,1.3,1]},"legend":null},"opacity":{"field":"k","type":"nominal","scale":{"type":"ordinal","domain":["a","b","c","d"],"range":[0.4,0.9,0.45,0.55]},"legend":null},"color":{"value":"#444"}}},
{"data":{"name":"F1"},"mark":{"type":"errorbar","ticks":{"size":6},"thickness":1.3,"clip":true},"encoding":{"x":{"field":"x","type":"quantitative","scale":{"domain":[-3.11,3.13],"nice":false,"zero":false},"axis":null},"y":{"field":"y","type":"quantitative","scale":{"domain":[-0.118,0.221],"nice":false,"zero":false},"axis":null},"yError":{"field":"e"},"color":{"field":"s","type":"nominal","scale":{"domain":["10","15","20"],"range":["#1f77b4","#ff7f0e","#2ca02c"]},"legend":{"orient":"none","legendX":255,"legendY":266,"direction":"horizontal","title":null,"padding":0,"labelExpr":"'R = ' + datum.label + ' Mpc/h'","labelFontSize":10,"labelFont":"DejaVu Sans","labelColor":"#222","symbolType":"M-0.4,-1H0.4M0,-1V1M-0.4,1H0.4M-0.3,-0.3H0.3V0.3H-0.3Z","symbolSize":120,"symbolStrokeWidth":1.3,"columnPadding":3,"labelOffset":5}}}},
{"data":{"name":"F1"},"mark":{"type":"point","filled":true,"size":16,"opacity":1,"clip":true},"encoding":{"x":{"field":"x","type":"quantitative","scale":{"domain":[-3.11,3.13],"nice":false,"zero":false},"axis":{"orient":"bottom","values":[-3,-2.8,-2.6,-2.4,-2.2,-2,-1.8,-1.6,-1.4,-1.2,-1,-0.8,-0.6,-0.4,-0.2,0,0.2,0.4,0.6,0.8,1,1.2,1.4,1.6,1.8,2,2.2,2.4,2.6,2.8,3],"labelExpr":"abs(datum.value-round(datum.value))<0.001 ? format(datum.value,'.0f') : ''","tickSize":{"condition":{"test":"abs(datum.value-round(datum.value))<0.001","value":-4},"value":-2},"labelPadding":6,"title":"(ln ρ − ⟨ln ρ⟩)/σₗₙᵨ","titlePadding":3}},"y":{"field":"y","type":"quantitative","scale":{"domain":[-0.118,0.221],"nice":false,"zero":false},"axis":{"orient":"right","values":[-0.1,-0.08,-0.06,-0.04,-0.02,0,0.02,0.04,0.06,0.08,0.1,0.12,0.14,0.16,0.18,0.2],"labels":false,"tickSize":{"condition":{"test":"abs(datum.value*10-round(datum.value*10))<0.001","value":-4},"value":-2},"title":null}},"color":{"field":"s","type":"nominal","scale":{"domain":["10","15","20"],"range":["#1f77b4","#ff7f0e","#2ca02c"]},"legend":{"orient":"none","legendX":255,"legendY":266,"direction":"horizontal","title":null,"padding":0,"labelExpr":"'R = ' + datum.label + ' Mpc/h'","labelFontSize":10,"labelFont":"DejaVu Sans","labelColor":"#222","symbolType":"M-0.4,-1H0.4M0,-1V1M-0.4,1H0.4M-0.3,-0.3H0.3V0.3H-0.3Z","symbolSize":120,"symbolStrokeWidth":1.3,"columnPadding":3,"labelOffset":5}}}},
{"data":{"values":[{}]},"mark":{"type":"text","text":""},"encoding":{"x":{"datum":0,"type":"quantitative","axis":{"orient":"top","values":[-3,-2.8,-2.6,-2.4,-2.2,-2,-1.8,-1.6,-1.4,-1.2,-1,-0.8,-0.6,-0.4,-0.2,0,0.2,0.4,0.6,0.8,1,1.2,1.4,1.6,1.8,2,2.2,2.4,2.6,2.8,3],"labels":false,"tickSize":{"condition":{"test":"abs(datum.value-round(datum.value))<0.001","value":-4},"value":-2},"title":null}},"y":{"datum":0,"type":"quantitative","axis":null}}}
]},
{"width":260,"height":143,"resolve":{"axis":{"x":"independent","y":"independent"}},"layer":[
{"data":{"name":"refs"},"mark":{"type":"rule"},"encoding":{"y":{"field":"v","type":"quantitative","scale":{"domain":[-0.118,0.221],"nice":false,"zero":false},"axis":{"orient":"left","values":[-0.1,-0.08,-0.06,-0.04,-0.02,0,0.02,0.04,0.06,0.08,0.1,0.12,0.14,0.16,0.18,0.2],"labels":false,"tickSize":{"condition":{"test":"abs(datum.value*10-round(datum.value*10))<0.001","value":-4},"value":-2},"title":null}},"strokeDash":{"field":"k","type":"nominal","scale":{"domain":["a","b","c","d"],"range":[[1,0],[2,1.5],[2,1.5],[1,0]]},"legend":null},"strokeWidth":{"field":"k","type":"nominal","scale":{"type":"ordinal","domain":["a","b","c","d"],"range":[1.6,0.8,1.3,1]},"legend":null},"opacity":{"field":"k","type":"nominal","scale":{"type":"ordinal","domain":["a","b","c","d"],"range":[0.4,0.9,0.45,0.55]},"legend":null},"color":{"value":"#444"}}},
{"data":{"name":"D1"},"mark":{"type":"point","filled":true,"size":16,"opacity":1,"clip":true},"encoding":{"x":{"field":"x","type":"quantitative","scale":{"domain":[-3.11,3.13],"nice":false,"zero":false},"axis":{"orient":"bottom","values":[-3,-2.8,-2.6,-2.4,-2.2,-2,-1.8,-1.6,-1.4,-1.2,-1,-0.8,-0.6,-0.4,-0.2,0,0.2,0.4,0.6,0.8,1,1.2,1.4,1.6,1.8,2,2.2,2.4,2.6,2.8,3],"labelExpr":"abs(datum.value-round(datum.value))<0.001 ? format(datum.value,'.0f') : ''","tickSize":{"condition":{"test":"abs(datum.value-round(datum.value))<0.001","value":-4},"value":-2},"labelPadding":6,"title":"(ln ρ − ⟨ln ρ⟩)/σₗₙᵨ","titlePadding":3}},"y":{"field":"y","type":"quantitative","scale":{"domain":[-0.118,0.221],"nice":false,"zero":false},"axis":{"orient":"right","values":[-0.1,-0.08,-0.06,-0.04,-0.02,0,0.02,0.04,0.06,0.08,0.1,0.12,0.14,0.16,0.18,0.2],"labels":false,"tickSize":{"condition":{"test":"abs(datum.value*10-round(datum.value*10))<0.001","value":-4},"value":-2},"title":null}},"color":{"field":"s","type":"nominal","scale":{"domain":["10","15","20"],"range":["#1f77b4","#ff7f0e","#2ca02c"]}}}},
{"data":{"values":[{}]},"mark":{"type":"text","text":""},"encoding":{"x":{"datum":0,"type":"quantitative","axis":{"orient":"top","values":[-3,-2.8,-2.6,-2.4,-2.2,-2,-1.8,-1.6,-1.4,-1.2,-1,-0.8,-0.6,-0.4,-0.2,0,0.2,0.4,0.6,0.8,1,1.2,1.4,1.6,1.8,2,2.2,2.4,2.6,2.8,3],"labels":false,"tickSize":{"condition":{"test":"abs(datum.value-round(datum.value))<0.001","value":-4},"value":-2},"title":null}},"y":{"datum":0,"type":"quantitative","axis":null}}}
]}
]
}
